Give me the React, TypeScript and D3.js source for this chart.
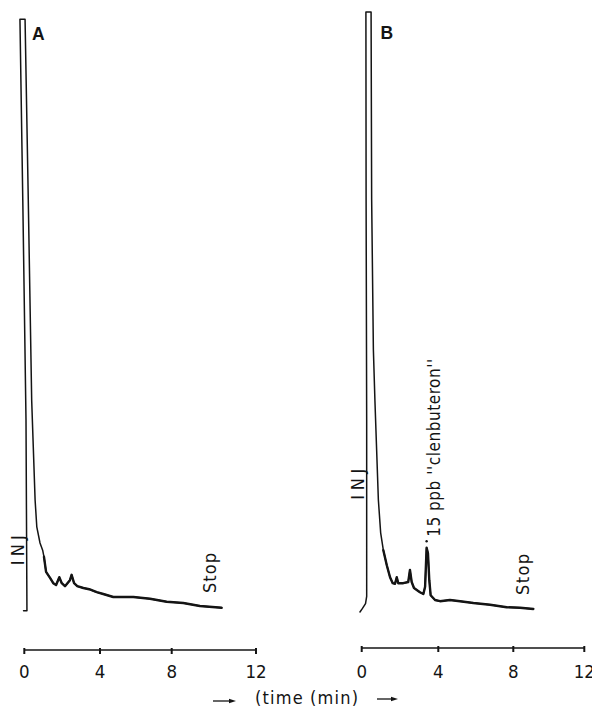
import React from 'react';
import * as d3 from 'd3';

// ---- data ----
const tickValues = [0, 4, 8, 12];
const tickLabels = ['0', '4', '8', '12'];

// Panel A trace (time in min, detector signal in arbitrary units, 100 = full scale)
const timeA = [-0.04, 0.14, 0.09, -0.08, -0.23, 0.04, 0.21, 0.39, 0.48, 0.57, 0.66, 0.83, 0.97, 1.04, 1.15, 1.36, 1.53, 1.68, 1.85, 1.98, 2.15, 2.41, 2.5, 2.63, 2.8, 3.12, 3.43, 3.83, 4.18, 4.74, 5.86, 6.79, 7.72, 8.55, 9.34, 10.37];
const signalA = [0.2, 0.2, 32, 68.7, 98.8, 98.8, 68.7, 35.3, 27, 18.7, 14.2, 11.5, 10.3, 9.2, 6.7, 5.7, 4.8, 4.5, 5.8, 4.8, 4.3, 5.3, 6.2, 4.8, 4.3, 4.0, 3.8, 3.3, 3.0, 2.5, 2.5, 2.2, 1.7, 1.5, 1.0, 0.7];

// Panel B trace
const timeB = [-0.09, 0.04, 0.2, 0.26, 0.26, 0.23, 0.22, 0.49, 0.52, 0.61, 0.69, 0.78, 0.87, 0.99, 1.13, 1.31, 1.48, 1.62, 1.74, 1.83, 1.91, 2.17, 2.43, 2.52, 2.61, 2.73, 3.04, 3.22, 3.31, 3.39, 3.46, 3.53, 3.6, 3.83, 4.09, 4.62, 5.16, 5.87, 6.76, 7.65, 8.38, 9.13];
const signalB = [0, 0.6, 1.4, 2.6, 32, 68.7, 100, 100, 68.7, 43.7, 35.3, 27, 18.7, 13.2, 10.3, 7.8, 5.8, 4.8, 4.7, 5.8, 4.8, 4.8, 5.0, 7.0, 5.0, 4.0, 3.3, 3.0, 4.2, 10.7, 9.8, 5.3, 2.8, 2.0, 1.8, 2.0, 1.8, 1.5, 1.2, 0.8, 0.7, 0.5];

const panelLabels = ['A', 'B'];
const injLabel = 'INJ';
const stopLabel = 'Stop';
const peakLabel = "15 ppb ''clenbuteron''";
const axisTitle = '(time (min)';

const injPosA = [-0.02, 10.3];
const injPosB = [0.13, 21.3];
const stopPosA = [10.1, 6.5];
const stopPosB = [8.88, 6.25];
const peakTimeB = 3.39;
const peakSignalB = 10.7;
const thickFrom = 1.0; // trace drawn heavier after this time

// ---- layout ----
const W = 592;
const H = 708;
const FONT = "'DejaVu Sans Condensed', 'DejaVu Sans', sans-serif";
const INK = '#141414';

const xA = d3.scaleLinear().domain(tickValues).range([24.3, 100, 171.7, 256]);
const xB = d3.scaleLinear().domain(tickValues).range([361.7, 438.3, 513.3, 584.3]);
const yS = d3.scaleLinear().domain([0, 100]).range([612, 12]);

type Panel = {
  x: d3.ScaleLinear<number, number>;
  t: number[];
  s: number[];
  axisY: number;
  label: string;
  labelX: number;
  labelY: number;
  inj: number[];
  injLen: number;
  stop: number[];
  stopLen: number;
};

const panels: Panel[] = [
  { x: xA, t: timeA, s: signalA, axisY: 650, label: panelLabels[0], labelX: 32, labelY: 39.5, inj: injPosA, injLen: 30, stop: stopPosA, stopLen: 40 },
  { x: xB, t: timeB, s: signalB, axisY: 648, label: panelLabels[1], labelX: 380.5, labelY: 38.5, inj: injPosB, injLen: 31, stop: stopPosB, stopLen: 41 },
];

function Arrow({ x1, x2, y }: { x1: number; x2: number; y: number }) {
  return (
    <g>
      <line x1={x1} x2={x2 - 5} y1={y} y2={y} stroke={INK} strokeWidth={1.3} />
      <path d={`M${x2},${y} L${x2 - 7},${y - 2.2} L${x2 - 7},${y + 2.2} Z`} fill={INK} />
    </g>
  );
}

export default function App() {
  return (
    <svg
      width={W}
      height={H}
      viewBox={`0 0 ${W} ${H}`}
      style={{ position: 'absolute', left: 0, top: 0, background: '#fff', display: 'block' }}
      fontFamily={FONT}
    >
      <rect x={0} y={0} width={W} height={H} fill="#fff" />
      {panels.map((p, pi) => {
        const pts: [number, number][] = p.t.map((t, i) => [t, p.s[i]]);
        const line = d3
          .line<[number, number]>()
          .x((d) => p.x(d[0]))
          .y((d) => yS(d[1]))
          .curve(d3.curveLinear);
        const firstThick = pts.findIndex((d, i) => i > 5 && d[0] >= thickFrom);
        const tail = pts.slice(firstThick);
        return (
          <g key={pi}>
            {/* trace */}
            <path d={line(pts) || ''} fill="none" stroke={INK} strokeWidth={1.5} strokeLinejoin="round" strokeLinecap="round" />
            <path d={line(tail) || ''} fill="none" stroke={INK} strokeWidth={2.4} strokeLinejoin="round" strokeLinecap="round" />
            {/* panel letter */}
            <text x={p.labelX} y={p.labelY} fontFamily="'Liberation Sans', Arial, sans-serif" fontWeight="bold" fontSize={17.5} fill={INK}>
              {p.label}
            </text>
            {/* INJ */}
            <text
              transform={`translate(${p.x(p.inj[0])},${yS(p.inj[1])}) rotate(-90)`}
              textAnchor="middle"
              fontSize={18}
              fontStretch="condensed"
              textLength={p.injLen}
              lengthAdjust="spacing"
              fill={INK}
            >
              {injLabel}
            </text>
            {/* Stop */}
            <text
              transform={`translate(${p.x(p.stop[0])},${yS(p.stop[1])}) rotate(-90)`}
              textAnchor="middle"
              fontSize={18}
              fontStretch="condensed"
              textLength={p.stopLen}
              lengthAdjust="spacing"
              fill={INK}
            >
              {stopLabel}
            </text>
            {/* x axis */}
            <line x1={p.x(0)} x2={p.x(12)} y1={p.axisY} y2={p.axisY} stroke={INK} strokeWidth={1.6} />
            {tickValues.map((v, i) => (
              <g key={v}>
                <line x1={p.x(v)} x2={p.x(v)} y1={p.axisY - 2} y2={p.axisY + 4} stroke={INK} strokeWidth={2} />
                <text x={p.x(v)} y={677.5} textAnchor="middle" fontSize={18.5} fontStretch="condensed" fill={INK}>
                  {tickLabels[i]}
                </text>
              </g>
            ))}
          </g>
        );
      })}

      {/* peak annotation in B */}
      <circle cx={xB(peakTimeB)} cy={yS(peakSignalB) - 6.5} r={1.2} fill={INK} />
      <text
        transform={`translate(${xB(peakTimeB) + 13.5},${yS(peakSignalB) - 11}) rotate(-90)`}
        textAnchor="start"
        fontSize={17}
        fontStretch="condensed"
        textLength={178}
        lengthAdjust="spacing"
        fill={INK}
      >
        {peakLabel}
      </text>

      {/* axis title */}
      <Arrow x1={213} x2={236} y={701} />
      <text x={306.5} y={704} textAnchor="middle" fontSize={18} fontStretch="condensed" textLength={103} lengthAdjust="spacing" fill={INK}>
        {axisTitle}
      </text>
      <Arrow x1={377} x2={398} y={699} />
    </svg>
  );
}
